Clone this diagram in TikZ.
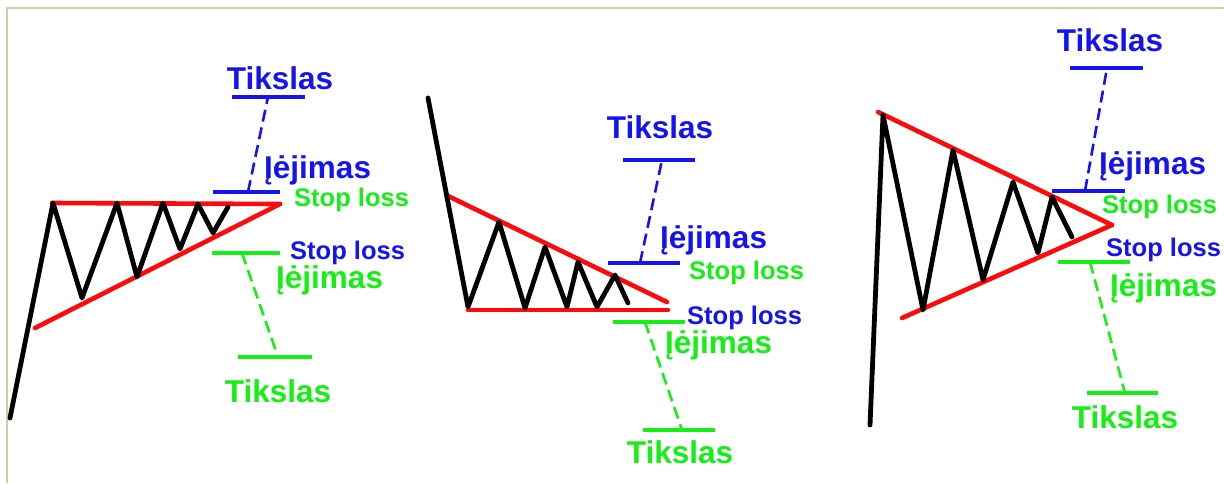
\documentclass[tikz,border=0pt]{standalone}
\usepackage{fontspec}
\setmainfont{Liberation Sans}
\definecolor{frame}{RGB}{212,204,168}
\definecolor{bl}{RGB}{20,20,240}
\definecolor{gr}{RGB}{20,240,20}
\definecolor{rd}{RGB}{255,10,10}
\begin{document}
\begin{tikzpicture}[x=1pt,y=-1pt,
  price/.style={draw=black,line width=4.8pt,line join=round,line cap=round},
  trend/.style={draw=rd,line width=4.6pt,line cap=round},
  bline/.style={draw=bl,line width=3.6pt},
  gline/.style={draw=gr,line width=3.6pt},
  bdash/.style={draw=bl,line width=2.6pt,dash pattern=on 12pt off 6pt},
  gdash/.style={draw=gr,line width=2.6pt,dash pattern=on 12pt off 6pt},
  big/.style={font=\bfseries\fontsize{31.5}{32}\selectfont,inner sep=0pt},
  small/.style={font=\bfseries\fontsize{25.5}{26}\selectfont,inner sep=0pt},
]
\useasboundingbox (0,0) rectangle (1224,483);
\fill[white] (0,0) rectangle (1224,483);
\draw[frame,line width=2pt] (7,483) -- (7,8) -- (1224,8);

% ---------- Panel 1: ascending triangle ----------
\draw[trend] (52,203) -- (280,204);
\draw[trend] (35,328) -- (280,204);
\draw[price] (10,418) -- (53,203) -- (82,298) -- (117,203) -- (137,277) -- (163,203) -- (180,249) -- (198,204) -- (213,233) -- (228,207);
\coordinate (a1) at (213,192); \coordinate (a2) at (280,192);
\draw[bline] (a1) -- (a2);
\coordinate (a3) at (232,97); \coordinate (a4) at (305,97);
\draw[bline] (a3) -- (a4);
\draw[bdash] (248,192) -- (268,97);
\coordinate (a5) at (212,253); \coordinate (a6) at (280,253);
\draw[gline] (a5) -- (a6);
\coordinate (a7) at (238,357); \coordinate (a8) at (312,357);
\draw[gline] (a7) -- (a8);
\draw[gdash] (242,253) -- (278,357);
\node[big,text=bl,anchor=base] (t1b) at (280,89) {Tikslas};
\node[big,text=bl,anchor=base west] (e1b) at (264,178) {Įėjimas};
\node[small,text=gr,anchor=base west] (s1g) at (294,206) {Stop loss};
\node[small,text=bl,anchor=base west] (s1b) at (290,259) {Stop loss};
\node[big,text=gr,anchor=base west] (e1g) at (276,288) {Įėjimas};
\node[big,text=gr,anchor=base] (t1g) at (278,402) {Tikslas};

% ---------- Panel 2: descending triangle ----------
\draw[trend] (448,196) -- (667,302);
\draw[trend] (468,310) -- (668,310);
\draw[price] (428,98) -- (468,307) -- (499,222) -- (525,308) -- (545,247) -- (567,307) -- (578,262) -- (597,307) -- (615,275) -- (628,303);
\coordinate (b1) at (608,263); \coordinate (b2) at (680,263);
\draw[bline] (b1) -- (b2);
\coordinate (b3) at (623,160); \coordinate (b4) at (695,160);
\draw[bline] (b3) -- (b4);
\draw[bdash] (640,263) -- (662,160);
\coordinate (b5) at (613,322); \coordinate (b6) at (685,322);
\draw[gline] (b5) -- (b6);
\coordinate (b7) at (643,430); \coordinate (b8) at (715,430);
\draw[gline] (b7) -- (b8);
\draw[gdash] (645,322) -- (682,430);
\node[big,text=bl,anchor=base] (t2b) at (660,138) {Tikslas};
\node[big,text=bl,anchor=base west] (e2b) at (660,248) {Įėjimas};
\node[small,text=gr,anchor=base west] (s2g) at (689,279) {Stop loss};
\node[small,text=bl,anchor=base west] (s2b) at (687,324) {Stop loss};
\node[big,text=gr,anchor=base west] (e2g) at (665,353) {Įėjimas};
\node[big,text=gr,anchor=base] (t2g) at (680,463) {Tikslas};

% ---------- Panel 3: symmetrical triangle ----------
\draw[trend] (878,112) -- (1112,225);
\draw[trend] (902,318) -- (1112,225);
\draw[price] (870,425) -- (883,115) -- (923,310) -- (953,150) -- (983,280) -- (1013,182) -- (1038,253) -- (1052,197) -- (1072,237);
\coordinate (c1) at (1052,191); \coordinate (c2) at (1125,191);
\draw[bline] (c1) -- (c2);
\coordinate (c3) at (1070,68); \coordinate (c4) at (1143,68);
\draw[bline] (c3) -- (c4);
\draw[bdash] (1085,191) -- (1107,68);
\coordinate (c5) at (1058,262); \coordinate (c6) at (1130,262);
\draw[gline] (c5) -- (c6);
\coordinate (c7) at (1087,393); \coordinate (c8) at (1158,393);
\draw[gline] (c7) -- (c8);
\draw[gdash] (1090,262) -- (1125,393);
\node[big,text=bl,anchor=base] (t3b) at (1110,51) {Tikslas};
\node[big,text=bl,anchor=base west] (e3b) at (1099,174) {Įėjimas};
\node[small,text=gr,anchor=base west] (s3g) at (1102,213) {Stop loss};
\node[small,text=bl,anchor=base west] (s3b) at (1106,256) {Stop loss};
\node[big,text=gr,anchor=base west] (e3g) at (1110,296) {Įėjimas};
\node[big,text=gr,anchor=base] (t3g) at (1125,428) {Tikslas};
\end{tikzpicture}
\end{document}
